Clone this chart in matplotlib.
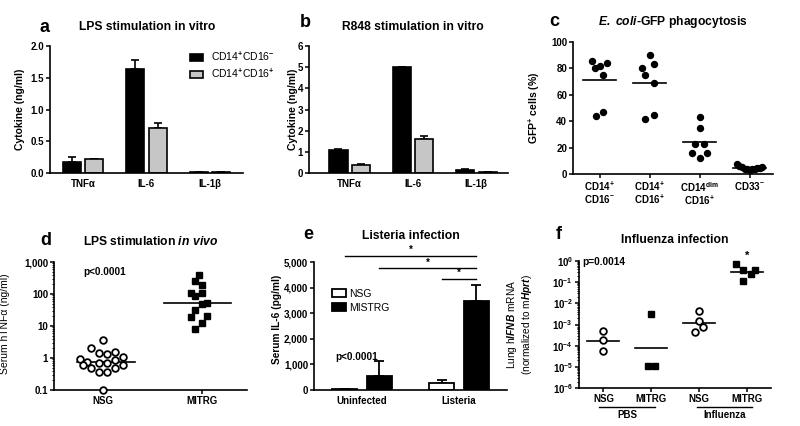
import matplotlib
matplotlib.use('Agg')
import matplotlib.pyplot as plt
import numpy as np
from matplotlib.ticker import LogLocator, NullFormatter
import matplotlib.transforms as mtransforms

plt.rcParams['font.family'] = ['Liberation Sans', 'DejaVu Sans']
plt.rcParams['font.weight'] = 'bold'
plt.rcParams['mathtext.fontset'] = 'custom'
plt.rcParams['mathtext.rm'] = 'Liberation Sans'
plt.rcParams['mathtext.it'] = 'Liberation Sans:italic'
plt.rcParams['mathtext.bf'] = 'Liberation Sans:bold'
plt.rcParams['mathtext.bfit'] = 'Liberation Sans:bold:italic'

# ---------------- data ----------------
cyt_cats = ['TNFα', 'IL-6', 'IL-1β']
lps_neg = [0.173, 1.633, 0.012]
lps_neg_err = [0.08, 0.14, 0.004]
lps_pos = [0.215, 0.709, 0.01]
lps_pos_err = [0.011, 0.084, 0.003]
r848_neg = [1.07, 5.0, 0.14]
r848_neg_err = [0.08, 0.0, 0.03]
r848_pos = [0.395, 1.60, 0.06]
r848_pos_err = [0.05, 0.14, 0.01]

phago_cats = ['CD14$^{\\mathbf{+}}$\nCD16$^{\\mathbf{-}}$',
              'CD14$^{\\mathbf{+}}$\nCD16$^{\\mathbf{+}}$',
              'CD14$^{\\mathbf{dim}}$\nCD16$^{\\mathbf{+}}$',
              'CD33$^{\\mathbf{-}}$']
phago_g1 = [85.75, 80.25, 82.0, 84.25, 75.0, 43.75, 47.25]
phago_g1_off = [-0.16, -0.085, 0.0, 0.157, 0.072, -0.078, 0.072]
phago_g2 = [90.0, 80.25, 83.0, 75.0, 69.0, 42.0, 45.0]
phago_g2_off = [0.0, -0.16, 0.08, -0.085, 0.08, -0.085, 0.08]
phago_g3 = [43.5, 34.5, 22.75, 22.75, 16.25, 16.0, 11.75]
phago_g3_off = [0.0, 0.0, -0.085, 0.08, -0.16, 0.157, 0.0]
phago_g4 = [7.5, 6.0, 5.0, 4.0, 3.5, 3.0, 3.5, 4.0, 4.5, 4.5, 5.0]
phago_g4_off = [-0.26, -0.21, -0.16, -0.1, -0.05, 0.0, 0.05, 0.1, 0.15, 0.2, 0.25]

tnf_cats = ['NSG', 'MITRG']
tnf_nsg = [3.65, 2.05, 1.40, 1.36, 1.50, 0.93, 0.77, 1.07, 0.62, 0.68, 0.68,
           0.87, 0.50, 0.60, 0.365, 0.356, 0.475, 0.1]
tnf_nsg_off = [0.0, -0.12, -0.043, 0.037, 0.117, -0.233, -0.158, 0.198, -0.198,
               -0.043, 0.037, 0.117, -0.125, 0.198, -0.043, 0.037, 0.117, 0.003]
tnf_mitrg = [390, 254, 196, 105, 105, 85, 50, 54, 31.6, 18.6, 20.5, 12.1, 8.3]
tnf_mitrg_off = [-0.03, -0.074, 0.0, -0.114, 0.0, -0.074, 0.0, 0.044, -0.074,
                 -0.114, 0.044, 0.0, -0.074]
tnf_lines = [0.77, 51]

inf_cats = ['Uninfected', 'Listeria']
il6_nsg = [25, 290]
il6_nsg_err = [8, 85]
il6_mistrg = [550, 3480]
il6_mistrg_err = [570, 640]
il6_sig_heights = [5234, 4753, 4336]

flu_cats = ['NSG', 'MITRG', 'NSG', 'MITRG']
flu_groups = ['PBS', 'Influenza']
ifn_nsg_pbs = [4.7e-4, 1.8e-4, 5.8e-5]
ifn_nsg_pbs_off = [0.0, 0.0, 0.0]
ifn_mitrg_pbs = [3.3e-3, 1.1e-5, 1.1e-5]
ifn_mitrg_pbs_off = [0.0, -0.07, 0.084]
ifn_nsg_flu = [4.4e-3, 1.5e-3, 7.5e-4, 4.4e-4]
ifn_nsg_flu_off = [0.0, 0.0, 0.084, -0.084]
ifn_mitrg_flu = [0.70, 0.38, 0.235, 0.38, 0.11]
ifn_mitrg_flu_off = [-0.237, -0.077, 0.084, 0.167, -0.077]
ifn_lines = [1.7e-4, 7.4e-5, 1.2e-3, 0.30]

# ---------------- layout ----------------
W, H = 800, 426
fig = plt.figure(figsize=(8, 4.26), dpi=100)


def add_ax(l, t, r, b):
    return fig.add_axes([l / W, 1 - b / H, (r - l) / W, (b - t) / H])


def style(ax):
    for s in ['top', 'right']:
        ax.spines[s].set_visible(False)
    for s in ['left', 'bottom']:
        ax.spines[s].set_linewidth(1.2)
    ax.tick_params(axis='both', which='major', length=2.8, width=1.1, pad=1.5,
                   labelsize=7, direction='out')
    ax.tick_params(axis='both', which='minor', length=1.6, width=0.7)


def letter(x, y, s):
    fig.text(x / W, 1 - y / H, s, fontsize=13, fontweight='bold', ha='center', va='baseline')


def title(ax, xf, yf, s):
    ax.text(xf, yf, s, transform=ax.transAxes, fontsize=8.7, fontweight='bold',
            ha='center', va='center')


BLACK = 'black'
GRAY = '#c6c6c6'

# ---- panel a ----
ax = add_ax(50, 46, 243, 173)
style(ax)
x = np.arange(len(cyt_cats))
bw = 0.285
ax.bar(x - 0.175, lps_neg, bw, color=BLACK, edgecolor=BLACK, lw=1.2,
       label='CD14$^{+}$CD16$^{-}$', zorder=2)
ax.bar(x + 0.18, lps_pos, bw, color=GRAY, edgecolor=BLACK, lw=1.2,
       label='CD14$^{+}$CD16$^{+}$', zorder=2)
ax.errorbar(x - 0.175, lps_neg, yerr=[np.zeros(3), lps_neg_err], fmt='none',
            ecolor=BLACK, elinewidth=1.2, capsize=3, capthick=1.2, zorder=1)
ax.errorbar(x + 0.18, lps_pos, yerr=[np.zeros(3), lps_pos_err], fmt='none',
            ecolor=BLACK, elinewidth=1.2, capsize=3, capthick=1.2, zorder=1)
ax.set_xlim(-0.52, 2.52)
ax.set_ylim(0, 2.0)
ax.set_yticks([0, 0.5, 1.0, 1.5, 2.0], ['0.0', '0.5', '1.0', '1.5', '2.0'])
ax.set_xticks(x, cyt_cats)
ax.tick_params(axis='x', length=0, pad=4)
ax.set_ylabel('Cytokine (ng/ml)', fontsize=7.5, fontweight='bold')
ax.yaxis.set_label_coords(-0.13, 0.5)
ax.legend(loc='upper left', bbox_to_anchor=(0.725, 0.97), frameon=False, borderpad=0,
          borderaxespad=0, handlelength=1.3, handleheight=0.7, handletextpad=0.75,
          labelspacing=0.35, prop={'size': 7.5, 'weight': 'normal'})
title(ax, 0.505, 1.15, 'LPS stimulation in vitro')
letter(44.5, 31.5, 'a')

# ---- panel b ----
ax = add_ax(309, 46, 508, 173)
style(ax)
ax.bar(x - 0.175, r848_neg, bw, color=BLACK, edgecolor=BLACK, lw=1.2, zorder=2)
ax.bar(x + 0.18, r848_pos, bw, color=GRAY, edgecolor=BLACK, lw=1.2, zorder=2)
ax.errorbar(x - 0.175, r848_neg, yerr=[np.zeros(3), r848_neg_err], fmt='none',
            ecolor=BLACK, elinewidth=1.2, capsize=3, capthick=1.2, zorder=1)
ax.errorbar(x + 0.18, r848_pos, yerr=[np.zeros(3), r848_pos_err], fmt='none',
            ecolor=BLACK, elinewidth=1.2, capsize=3, capthick=1.2, zorder=1)
ax.set_xlim(-0.64, 2.5)
ax.set_ylim(0, 6)
ax.set_yticks(range(7))
ax.set_xticks(x, cyt_cats)
ax.tick_params(axis='x', length=0, pad=4)
ax.set_ylabel('Cytokine (ng/ml)', fontsize=7.5, fontweight='bold')
ax.yaxis.set_label_coords(-0.055, 0.5)
title(ax, 0.52, 1.152, 'R848 stimulation in vitro')
letter(305, 26.7, 'b')

# ---- panel c ----
ax = add_ax(573, 42, 773, 174)
style(ax)
groups = [(phago_g1, phago_g1_off), (phago_g2, phago_g2_off),
          (phago_g3, phago_g3_off), (phago_g4, phago_g4_off)]
for i, (vals, off) in enumerate(groups):
    ax.plot(i + np.array(off), vals, 'o', color=BLACK, ms=4.3, clip_on=False, zorder=3)
    m = np.mean(vals)
    ax.plot([i - 0.33, i + 0.33], [m, m], color=BLACK, lw=1.2, zorder=3)
ax.set_xlim(-0.53, 3.47)
ax.set_ylim(0, 100)
ax.set_yticks([0, 20, 40, 60, 80, 100])
ax.set_xticks(range(4), phago_cats)
for lab in ax.get_xticklabels():
    lab.set_linespacing(0.95)
    lab.set_verticalalignment('top')
ax.set_ylabel('GFP$^{\\mathbf{+}}$ cells (%)', fontsize=7.5, fontweight='bold')
ax.yaxis.set_label_coords(-0.156, 0.5)
title(ax, 0.5, 1.154, '$\\mathbfit{E.\\ coli}$-GFP phagocytosis')
letter(554.5, 26, 'c')

# ---- panel d ----
ax = add_ax(54, 262, 247, 390)
style(ax)
ax.set_yscale('log')
ax.plot(0 + np.array(tnf_nsg_off), tnf_nsg, 'o', mfc='white', mec=BLACK, mew=1.3,
        ms=4.8, clip_on=False, zorder=4)
ax.plot(1 + np.array(tnf_mitrg_off), tnf_mitrg, 's', color=BLACK, ms=4.2,
        clip_on=False, zorder=4)
ax.plot([-0.26, 0.32], [tnf_lines[0]] * 2, color=BLACK, lw=1.2, zorder=3)
ax.plot([1 - 0.39, 1 + 0.29], [tnf_lines[1]] * 2, color=BLACK, lw=1.2, zorder=3)
ax.set_ylim(0.1, 1000)
ax.set_xlim(-0.495, 1.45)
ax.set_yticks([0.1, 1, 10, 100, 1000], ['0.1', '1', '10', '100', '1,000'])
ax.yaxis.set_minor_locator(LogLocator(base=10, subs=np.arange(2, 10)))
ax.yaxis.set_minor_formatter(NullFormatter())
ax.set_xticks([0, 1], tnf_cats)
ax.set_ylabel('Serum hTNFα (ng/ml)', fontsize=7.5, fontweight='normal')
ax.yaxis.set_label_coords(-0.228, 0.52)
ax.text(-0.2, 500, 'p<0.0001', fontsize=7.2, fontweight='bold', ha='left', va='center')
title(ax, 0.5, 1.158, 'LPS stimulation $\\mathbfit{in\\ vivo}$')
letter(45.5, 245, 'd')

# ---- panel e ----
ax = add_ax(314, 262, 507, 390)
style(ax)
xe = np.arange(len(inf_cats))
ebw = 0.26
nsg_x = xe - 0.175
mis_x = xe + 0.185
ax.bar(nsg_x, il6_nsg, ebw, color='white', edgecolor=BLACK, lw=1.3, label='NSG', zorder=2)
ax.bar(mis_x, il6_mistrg, ebw, color=BLACK, edgecolor=BLACK, lw=1.3, label='MISTRG', zorder=2)
ax.errorbar(nsg_x, il6_nsg, yerr=[np.zeros(2), il6_nsg_err], fmt='none', ecolor=BLACK,
            elinewidth=1.3, capsize=3.5, capthick=1.3, zorder=1)
ax.errorbar(mis_x, il6_mistrg, yerr=[np.zeros(2), il6_mistrg_err], fmt='none', ecolor=BLACK,
            elinewidth=1.3, capsize=3.5, capthick=1.3, zorder=1)
ax.set_xlim(-0.49, 1.5)
ax.set_ylim(0, 5000)
ax.set_yticks(range(0, 5001, 1000), ['0', '1,000', '2,000', '3,000', '4,000', '5,000'])
ax.set_xticks(xe, inf_cats)
ax.tick_params(axis='x', length=0, pad=4)
ax.set_ylabel('Serum IL-6 (pg/ml)', fontsize=7.3, fontweight='bold')
ax.yaxis.set_label_coords(-0.167, 0.55)
sig_pairs = [(nsg_x[0], mis_x[1]), (mis_x[0], mis_x[1]), (nsg_x[1], mis_x[1])]
for (x0, x1), hgt in zip(sig_pairs, il6_sig_heights):
    ax.plot([x0, x1], [hgt, hgt], color=BLACK, lw=1.0, clip_on=False)
    ax.text((x0 + x1) / 2, hgt + 30, '*', fontsize=7, fontweight='bold', ha='center',
            va='bottom', clip_on=False)
ax.legend(loc='upper left', bbox_to_anchor=(0.095, 0.79), frameon=False, borderpad=0,
          borderaxespad=0, handlelength=1.35, handleheight=0.75, handletextpad=0.25,
          labelspacing=0.35, prop={'size': 7.5, 'weight': 'normal'})
ax.text(-0.27, 1290, 'p<0.0001', fontsize=7.2, fontweight='bold', ha='left', va='center')
title(ax, 0.5, 1.205, 'Listeria infection')
letter(308, 239.3, 'e')

# ---- panel f ----
ax = add_ax(579, 261, 771, 388)
style(ax)
ax.set_yscale('log')
fsets = [(ifn_nsg_pbs, ifn_nsg_pbs_off, 'o'), (ifn_mitrg_pbs, ifn_mitrg_pbs_off, 's'),
         (ifn_nsg_flu, ifn_nsg_flu_off, 'o'), (ifn_mitrg_flu, ifn_mitrg_flu_off, 's')]
for i, (vals, off, mk) in enumerate(fsets):
    if mk == 'o':
        ax.plot(i + np.array(off), vals, 'o', mfc='white', mec=BLACK, mew=1.3, ms=4.8,
                clip_on=False, zorder=4)
    else:
        ax.plot(i + np.array(off), vals, 's', color=BLACK, ms=4.2, clip_on=False, zorder=4)
    ax.plot([i - 0.335, i + 0.335], [ifn_lines[i]] * 2, color=BLACK, lw=1.2, zorder=3)
ax.set_ylim(1e-6, 1)
ax.set_xlim(-0.51, 3.5)
ax.set_yticks([10.0 ** k for k in range(-6, 1)],
              ['$10^{%d}$' % k for k in range(-6, 1)])
for lab in ax.get_yticklabels():
    lab.set_fontweight('normal')
ax.yaxis.set_minor_locator(LogLocator(base=10, subs=np.arange(2, 10)))
ax.yaxis.set_minor_formatter(NullFormatter())
ax.set_xticks(range(4), flu_cats)
ax.set_ylabel('Lung h$\\it{IFNB}$ mRNA\n(normalized to m$\\it{Hprt}$)', fontsize=7.3,
              fontweight='normal', linespacing=1.05)
ax.yaxis.set_label_coords(-0.235, 0.5)
ax.text(3, 10 ** 0.25, '*', fontsize=8, fontweight='bold', ha='center', va='center',
        clip_on=False)
ax.text(-0.45, 10 ** -0.05, 'p=0.0014', fontsize=7.3, fontweight='bold', ha='left',
        va='center')
trans = mtransforms.blended_transform_factory(ax.transData, ax.transAxes)
for gx0, gx1, name in [(-0.09, 1.08, flu_groups[0]), (1.96, 3.1, flu_groups[1])]:
    ax.plot([gx0, gx1], [-0.15, -0.15], color=BLACK, lw=1.0, transform=trans, clip_on=False)
    ax.text((gx0 + gx1) / 2, -0.215, name, transform=trans, fontsize=7, fontweight='bold',
            ha='center', va='center')
title(ax, 0.5, 1.165, 'Influenza infection')
letter(558.5, 239.3, 'f')

fig.savefig('out.png', dpi=100)
